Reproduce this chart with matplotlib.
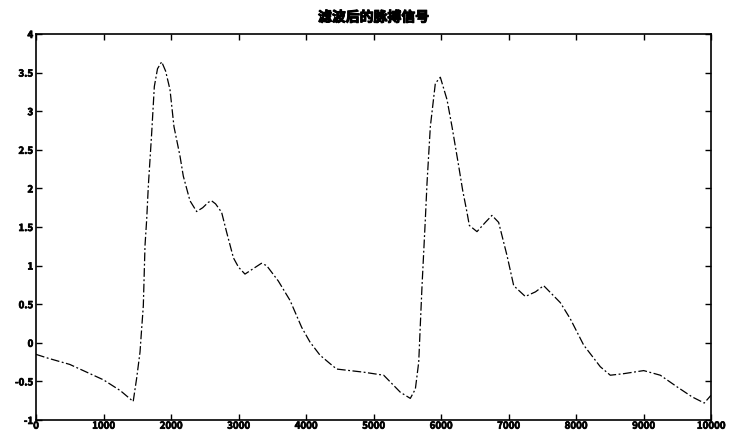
import matplotlib
matplotlib.use("Agg")
import matplotlib.pyplot as plt
import matplotlib.patheffects as pe

plt.rcParams['font.family'] = ['Noto Sans CJK SC', 'DejaVu Sans']

title = "滤波后的脉搏信号"

# samples
pulse_x = [0, 180, 500, 1000, 1250, 1440, 1491, 1541, 1565, 1590, 1605, 1615, 1640, 1664, 1714,
           1753, 1800, 1862, 1920, 1985, 2044, 2133, 2182, 2281, 2380, 2470, 2553, 2600, 2660,
           2750, 2825, 2925, 3000, 3096, 3200, 3340, 3417, 3590, 3763, 3936, 4059, 4207, 4356,
           4454, 4650, 4850, 5151, 5397, 5545, 5620, 5670, 5693, 5719, 5768, 5793, 5842, 5916,
           5990, 6089, 6163, 6262, 6320, 6385, 6420, 6533, 6657, 6755, 6854, 6978, 7077, 7249,
           7400, 7521, 7768, 7916, 8114, 8360, 8508, 8706, 9003, 9249, 9496, 9719, 9900, 10000]
pulse_y = [-0.15, -0.20, -0.28, -0.48, -0.62, -0.76, -0.46, -0.12, 0.18, 0.48, 0.95, 1.26, 1.60, 2.03, 2.72,
           3.32, 3.55, 3.64, 3.52, 3.28, 2.80, 2.42, 2.16, 1.84, 1.70, 1.75, 1.82, 1.84, 1.80,
           1.69, 1.43, 1.10, 0.98, 0.89, 0.95, 1.03, 1.00, 0.80, 0.55, 0.20, 0.01, -0.16, -0.27,
           -0.34, -0.36, -0.38, -0.42, -0.64, -0.72, -0.60, -0.25, 0.22, 0.74, 1.60, 2.07, 2.80, 3.36,
           3.44, 3.15, 2.80, 2.29, 1.98, 1.69, 1.52, 1.44, 1.56, 1.65, 1.56, 1.13, 0.74, 0.60,
           0.66, 0.74, 0.52, 0.31, -0.03, -0.31, -0.42, -0.40, -0.36, -0.42, -0.57, -0.70, -0.78, -0.68]

x_ticks = [0, 1000, 2000, 3000, 4000, 5000, 6000, 7000, 8000, 9000, 10000]
y_ticks = [-1, -0.5, 0, 0.5, 1, 1.5, 2, 2.5, 3, 3.5, 4]

fig = plt.figure(figsize=(7.34, 4.33), dpi=100)
ax = fig.add_axes([36 / 734, 13 / 433, 675 / 734, 386 / 433])

ax.plot(pulse_x, pulse_y, color="black", linewidth=0.9, linestyle=(0, (7, 2, 1.5, 2)))

ax.set_xlim(0, 10000)
ax.set_ylim(-1, 4)
ax.set_xticks(x_ticks)
ax.set_yticks(y_ticks)
ax.set_yticklabels([f"{v:g}" for v in y_ticks])
ax.tick_params(direction="in", top=True, right=True, length=4, width=1, labelsize=7, pad=2)
ax.tick_params(axis="x", pad=0.5)
heavy = [pe.withStroke(linewidth=0.5, foreground="black")]
for lab in ax.get_xticklabels() + ax.get_yticklabels():
    lab.set_fontweight("bold")
    lab.set_path_effects(heavy)
for s in ax.spines.values():
    s.set_linewidth(1.2)

t = ax.set_title(title, fontsize=10, fontweight="bold", pad=9)
t.set_path_effects([pe.withStroke(linewidth=0.8, foreground="black")])

fig.savefig("out.png", dpi=100)
